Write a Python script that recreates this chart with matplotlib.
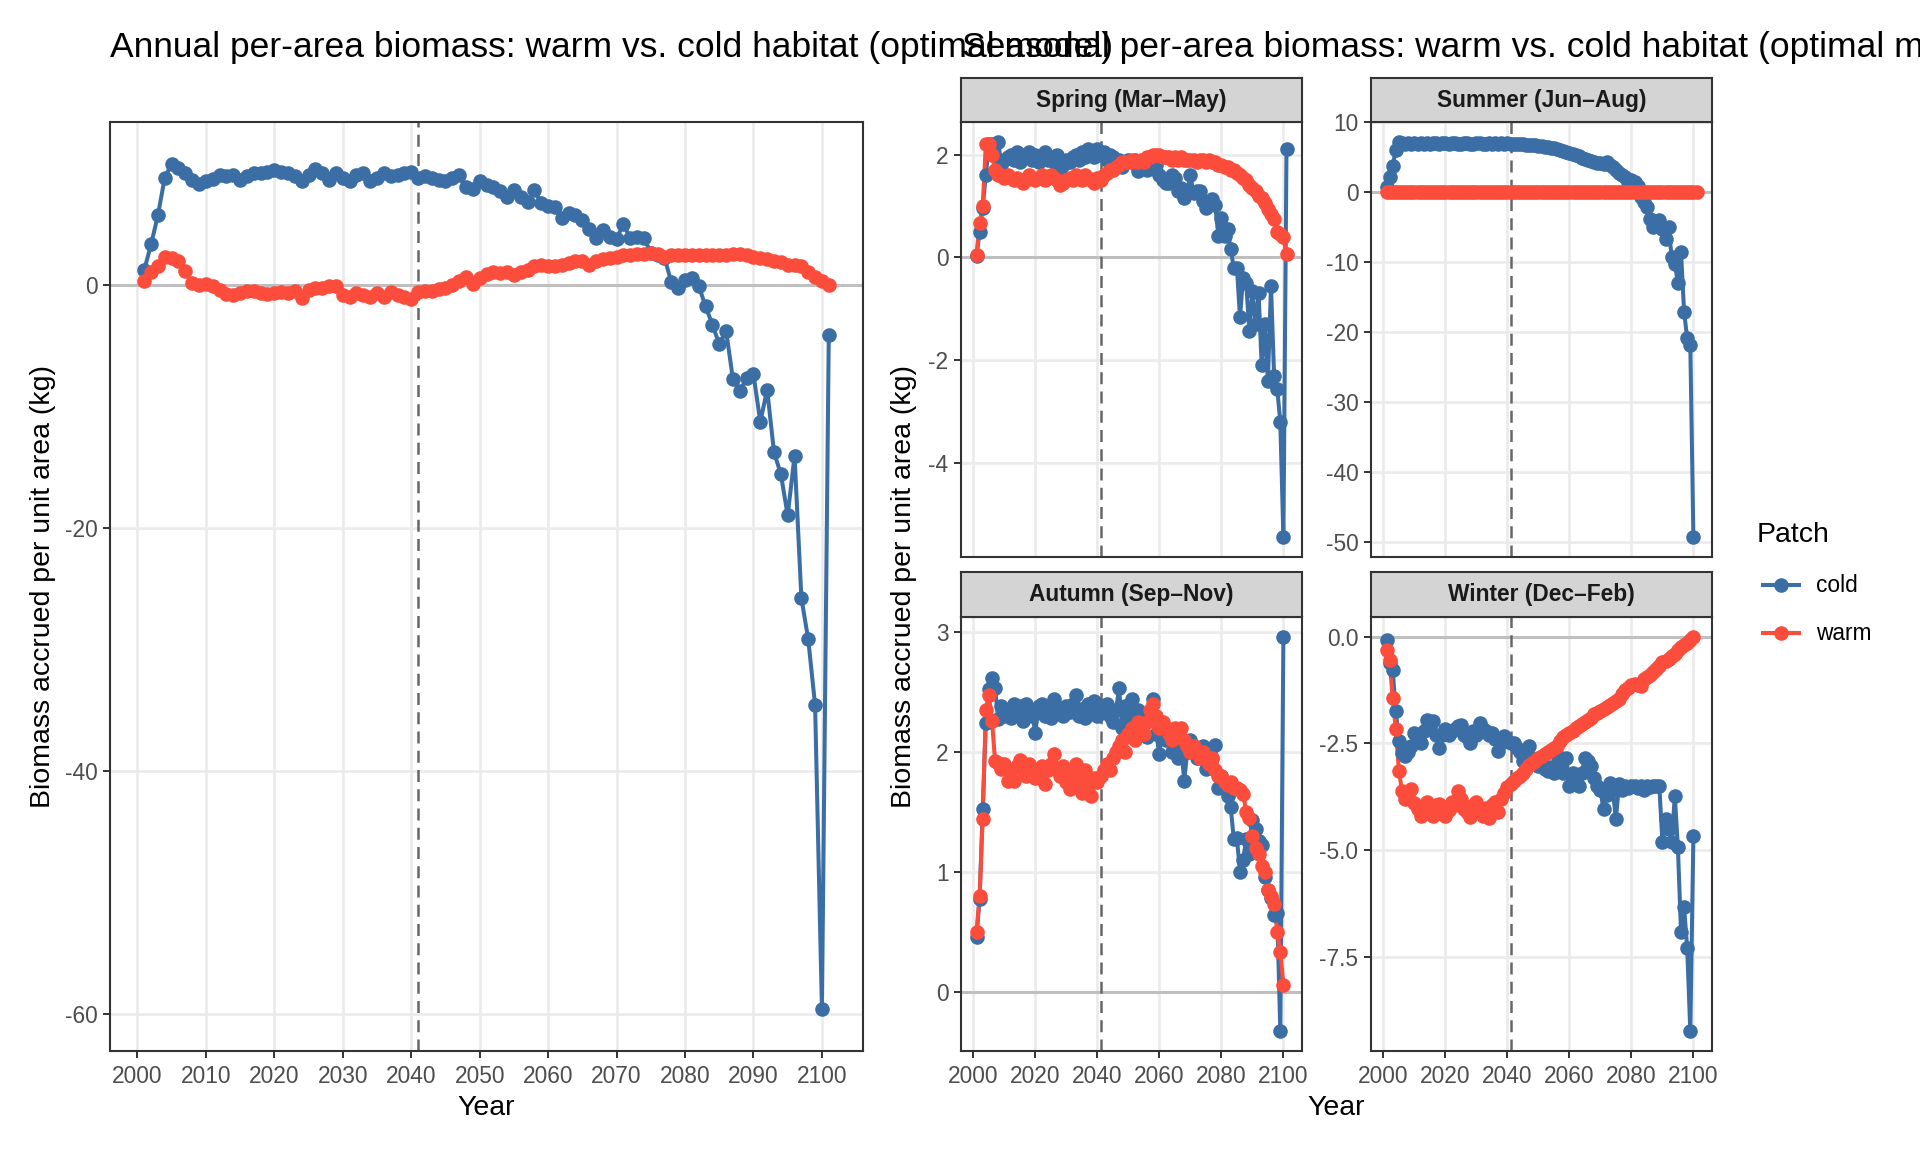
import matplotlib
matplotlib.use("Agg")
import matplotlib.pyplot as plt
from matplotlib.lines import Line2D

plt.rcParams['font.family'] = ['Liberation Sans', 'DejaVu Sans']
plt.rcParams['axes.unicode_minus'] = False

# ---- data ----
years = list(range(2001, 2102))        # 2001..2101
years100 = list(range(2001, 2101))     # 2001..2100

annual_cold = [1.2, 3.3, 5.7, 8.8, 9.9, 9.6, 9.15, 8.6, 8.3, 8.5,
               8.7, 9.0, 8.9, 9.0, 8.6, 8.9, 9.2, 9.15, 9.3, 9.4,
               9.3, 9.15, 8.9, 8.5, 9.0, 9.5, 9.15, 8.6, 9.2, 8.8,
               8.5, 9.05, 9.15, 8.5, 8.75, 9.15, 8.9, 9.0, 9.2, 9.3,
               8.8, 8.9, 8.75, 8.6, 8.5, 8.75, 9.0, 8.05, 7.9, 8.5,
               8.2, 8.0, 7.7, 7.2, 7.8, 7.2, 6.8, 7.8, 6.7, 6.5,
               6.4, 5.45, 5.9, 5.7, 5.3, 4.6, 3.8, 4.5, 3.9, 3.75,
               5.0, 3.8, 3.9, 3.85, 2.6, 2.45, 2.2, 0.2, -0.3, 0.35,
               0.5, -0.1, -1.8, -3.3, -4.9, -3.8, -7.8, -8.8, -7.7, -7.4,
               -11.3, -8.65, -13.8, -15.6, -19.0, -14.1, -25.8, -29.2, -34.6, -59.6,
               -4.15]
annual_warm = [0.3, 1.05, 1.5, 2.3, 2.2, 1.95, 1.1, 0.1, 0.0, 0.05,
               -0.15, -0.45, -0.8, -0.85, -0.7, -0.5, -0.55, -0.7, -0.8, -0.7,
               -0.6, -0.7, -0.5, -1.1, -0.45, -0.3, -0.25, -0.15, -0.1, -0.85,
               -1.0, -0.7, -0.85, -1.0, -0.7, -1.0, -0.6, -0.85, -1.0, -1.2,
               -0.6, -0.55, -0.5, -0.4, -0.3, 0.0, 0.25, 0.65, 0.05, 0.5,
               0.9, 1.0, 0.95, 1.0, 0.8, 1.0, 1.2, 1.5, 1.6, 1.55,
               1.5, 1.6, 1.75, 1.9, 1.95, 1.6, 1.95, 2.1, 2.2, 2.3,
               2.4, 2.45, 2.5, 2.5, 2.6, 2.5, 2.3, 2.4, 2.45, 2.4,
               2.4, 2.45, 2.4, 2.4, 2.4, 2.45, 2.5, 2.5, 2.4, 2.3,
               2.15, 2.1, 1.95, 1.85, 1.6, 1.6, 1.5, 1.05, 0.65, 0.25,
               0.0]

spring_cold = [0.03, 0.5, 0.97, 1.6, 2.2, 2.2, 2.2, 2.25, 1.8, 1.9,
               1.95, 2.0, 1.9, 2.05, 1.85, 2.0, 1.95, 2.05, 1.9, 2.0,
               1.85, 1.95, 2.05, 1.9, 1.95, 1.85, 2.0, 1.7, 1.8, 1.9,
               1.85, 1.95, 2.0, 1.9, 2.05, 1.95, 2.1, 2.0, 1.95, 2.1,
               2.0, 2.05, 1.9, 2.0, 1.95, 1.85, 1.9, 1.75, 1.85, 1.9,
               1.85, 1.9, 1.68, 1.75, 1.8, 1.7, 1.85, 1.74, 1.8, 1.6,
               1.5, 1.45, 1.45, 1.6, 1.55, 1.3, 1.35, 1.16, 1.3, 1.6,
               1.25, 1.3, 1.3, 1.1, 0.97, 1.05, 1.13, 1.03, 0.42, 0.77,
               0.42, 0.55, 0.16, -0.2, -0.2, -1.16, -0.4, -0.5, -1.42, -0.65,
               -1.3, -0.7, -2.1, -1.3, -2.4, -0.55, -2.3, -2.55, -3.2, -5.44,
               2.1]
spring_warm = [0.05, 0.68, 1.0, 2.2, 2.2, 2.0, 1.7, 1.6, 1.6, 1.55,
               1.6, 1.55, 1.5, 1.55, 1.5, 1.45, 1.5, 1.6, 1.55, 1.5,
               1.55, 1.6, 1.5, 1.55, 1.6, 1.55, 1.5, 1.4, 1.45, 1.5,
               1.55, 1.5, 1.6, 1.55, 1.5, 1.6, 1.55, 1.5, 1.45, 1.55,
               1.5, 1.6, 1.65, 1.7, 1.7, 1.75, 1.8, 1.85, 1.85, 1.85,
               1.9, 1.85, 1.85, 1.9, 1.85, 1.95, 1.95, 2.0, 2.0, 2.0,
               1.95, 1.95, 1.95, 1.9, 1.95, 1.9, 1.95, 1.9, 1.9, 1.9,
               1.9, 1.85, 1.9, 1.9, 1.85, 1.9, 1.85, 1.85, 1.8, 1.8,
               1.75, 1.75, 1.7, 1.7, 1.65, 1.6, 1.55, 1.5, 1.4, 1.35,
               1.3, 1.2, 1.15, 1.05, 0.95, 0.85, 0.75, 0.5, 0.45, 0.39,
               0.06]

summer_cold = [0.7, 2.2, 3.8, 6.0, 7.2, 7.0, 6.9, 7.0, 6.9, 7.0,
               6.95, 7.0, 6.9, 7.0, 6.95, 7.05, 7.0, 6.9, 7.0, 7.0,
               6.95, 7.0, 7.05, 6.9, 6.95, 7.0, 7.0, 6.9, 6.95, 7.0,
               7.0, 6.95, 6.9, 7.0, 6.95, 7.0, 6.95, 7.0, 6.9, 7.0,
               6.95, 6.9, 6.95, 6.85, 6.9, 6.8, 6.8, 6.7, 6.75, 6.6,
               6.6, 6.5, 6.45, 6.3, 6.3, 6.1, 6.0, 5.9, 5.75, 5.6,
               5.4, 5.25, 5.1, 4.95, 4.8, 4.6, 4.5, 4.35, 4.2, 4.1,
               4.0, 4.3, 3.95, 3.6, 3.1, 2.8, 2.5, 2.2, 1.4, 1.7,
               1.5, 0.9, -0.7, -1.4, -2.1, -3.8, -5.0, -4.75, -4.0, -5.3,
               -6.65, -5.0, -9.3, -10.2, -13.0, -8.5, -17.1, -20.9, -21.85, -49.3]
summer_warm = [0.0] * 101   # warm patch accrues nothing in summer

autumn_cold = [0.46, 0.77, 1.52, 2.24, 2.52, 2.62, 2.53, 2.27, 2.38, 2.3,
               2.35, 2.28, 2.4, 2.32, 2.38, 2.26, 2.4, 2.35, 2.3, 2.16,
               2.38, 2.4, 2.3, 2.35, 2.28, 2.44, 2.32, 2.36, 2.3, 2.38,
               2.33, 2.4, 2.47, 2.3, 2.36, 2.28, 2.4, 2.32, 2.42, 2.3,
               2.38, 2.35, 2.4, 2.3, 2.25, 2.35, 2.53, 2.2, 2.38, 2.28,
               2.44, 2.2, 2.35, 2.3, 2.25, 2.12, 2.3, 2.44, 2.15, 1.98,
               2.2, 2.1, 2.15, 2.0, 2.05, 1.95, 2.05, 1.76, 2.0, 2.1,
               2.05, 1.95, 2.0, 2.05, 1.86, 2.0, 1.95, 2.06, 1.7, 1.8,
               1.75, 1.63, 1.54, 1.27, 1.28, 1.0, 1.1, 1.27, 1.15, 1.43,
               1.36, 1.26, 1.22, 0.96, 0.85, 0.78, 0.64, 0.66, -0.33, 2.96]
autumn_warm = [0.5, 0.8, 1.44, 2.35, 2.47, 2.26, 1.92, 1.91, 1.86, 1.9,
               1.76, 1.85, 1.76, 1.88, 1.93, 1.85, 1.8, 1.9, 1.85, 1.78,
               1.82, 1.88, 1.73, 1.85, 1.9, 1.98, 1.85, 1.8, 1.88, 1.75,
               1.69, 1.82, 1.9, 1.75, 1.66, 1.85, 1.7, 1.63, 1.78, 1.75,
               1.8, 1.85, 1.9, 1.85, 1.95, 2.0, 2.05, 2.1, 2.0, 2.15,
               2.2, 2.1, 2.25, 2.2, 2.15, 2.25, 2.35, 2.4, 2.3, 2.2,
               2.25, 2.2, 2.15, 2.1, 2.2, 2.15, 2.2, 2.1, 2.05, 2.0,
               2.05, 2.0, 1.95, 2.0, 1.95, 1.9, 1.95, 1.85, 1.8, 1.8,
               1.75, 1.72, 1.75, 1.7, 1.7, 1.68, 1.65, 1.5, 1.45, 1.3,
               1.2, 1.15, 1.05, 1.0, 0.85, 0.8, 0.73, 0.5, 0.33, 0.06]

winter_cold = [-0.08, -0.62, -0.78, -1.75, -2.45, -2.72, -2.8, -2.7, -2.55, -2.25,
               -2.4, -2.48, -2.2, -1.94, -2.1, -1.98, -2.3, -2.6, -2.3, -2.17,
               -2.3, -2.2, -2.15, -2.1, -2.06, -2.3, -2.35, -2.48, -2.2, -2.3,
               -2.02, -2.15, -2.2, -2.3, -2.25, -2.4, -2.68, -2.5, -2.33, -2.45,
               -2.5, -2.48, -2.6, -2.7, -2.91, -2.75, -2.56, -2.85, -2.95, -3.03,
               -3.0, -3.1, -3.15, -3.05, -3.18, -2.76, -3.0, -3.2, -2.83, -3.49,
               -3.18, -3.3, -3.49, -3.2, -2.83, -2.9, -3.03, -3.3, -3.49, -3.6,
               -4.04, -3.7, -3.42, -3.6, -4.27, -3.46, -3.6, -3.49, -3.55, -3.49,
               -3.5, -3.55, -3.49, -3.6, -3.5, -3.52, -3.49, -3.5, -3.49, -4.81,
               -4.27, -4.5, -4.81, -3.73, -4.93, -6.91, -6.33, -7.3, -9.24, -4.66]
winter_warm = [-0.31, -0.54, -1.44, -2.17, -3.14, -3.61, -3.8, -3.7, -3.57, -3.9,
               -4.04, -4.19, -3.95, -3.88, -4.1, -4.19, -3.95, -3.92, -3.96, -4.19,
               -4.05, -3.88, -3.95, -3.61, -3.8, -4.04, -4.1, -4.23, -3.95, -3.88,
               -4.1, -4.19, -4.0, -4.25, -3.95, -3.88, -4.1, -3.8, -3.65, -3.53,
               -3.45, -3.38, -3.3, -3.25, -3.2, -3.1, -3.0, -2.95, -2.9, -2.85,
               -2.8, -2.75, -2.7, -2.65, -2.6, -2.55, -2.45, -2.35, -2.3, -2.25,
               -2.2, -2.14, -2.1, -2.05, -2.0, -1.95, -1.9, -1.8, -1.79, -1.75,
               -1.7, -1.65, -1.6, -1.55, -1.51, -1.45, -1.35, -1.25, -1.2, -1.13,
               -1.1, -1.12, -1.16, -1.0, -0.95, -0.9, -0.82, -0.75, -0.68, -0.6,
               -0.58, -0.52, -0.45, -0.4, -0.31, -0.25, -0.2, -0.14, -0.07, 0.0]

seasons = ["Spring (Mar–May)", "Summer (Jun–Aug)", "Autumn (Sep–Nov)", "Winter (Dec–Feb)"]
season_yticks = [[-4, -2, 0, 2],
                 [-50, -40, -30, -20, -10, 0, 10],
                 [0, 1, 2, 3],
                 [-7.5, -5.0, -2.5, 0.0]]
season_ylabels = [["-4", "-2", "0", "2"],
                  ["-50", "-40", "-30", "-20", "-10", "0", "10"],
                  ["0", "1", "2", "3"],
                  ["-7.5", "-5.0", "-2.5", "0.0"]]
annual_yticks = [-60, -40, -20, 0]
annual_xticks = list(range(2000, 2101, 10))
season_xticks = list(range(2000, 2101, 20))
cutoff_year = 2041

COLD = '#3a6ea5'
WARM = '#fc4c3b'
W, H = 1920, 1152
BASE = 20.5
LW = 2.9
MS = 10.5

fig = plt.figure(figsize=(W / 100, H / 100), dpi=100)


def box(x0, y0, x1, y1):
    # pixel box (top-left origin) -> figure fraction rect
    return [x0 / W, 1 - y1 / H, (x1 - x0) / W, (y1 - y0) / H]


def expand(vals):
    lo, hi = min(vals), max(vals)
    pad = (hi - lo) * 0.05
    return lo - pad, hi + pad


def style(ax, xticks, yticks, ylabels, show_x=True):
    ax.set_facecolor('white')
    ax.set_xticks(xticks)
    ax.set_xticklabels([str(t) for t in xticks])
    ax.set_yticks(yticks)
    ax.set_yticklabels(ylabels)
    ax.grid(True, color='#ebebeb', lw=1.9)
    ax.set_axisbelow(True)
    for s in ax.spines.values():
        s.set_color('#333333')
        s.set_linewidth(1.5)
    ax.tick_params(axis='both', colors='#333333', length=5, width=1.4,
                   labelsize=BASE * 0.8, labelcolor='#4d4d4d')
    ax.tick_params(axis='x', pad=5)
    ax.tick_params(axis='y', pad=4)
    if not show_x:
        ax.tick_params(axis='x', bottom=False, labelbottom=False)


def draw(ax, xc, cold, xw, warm):
    ax.axhline(0, color='#bfbfbf', lw=2.2, zorder=1)
    ax.axvline(cutoff_year, color='#666666', lw=1.8, ls=(0, (4.8, 2.9)), zorder=1.5)
    ax.plot(xc, cold, color=COLD, lw=LW, zorder=2)
    ax.plot(xw, warm, color=WARM, lw=LW, zorder=2)
    ax.plot(xc, cold, 'o', color=COLD, ms=MS, mew=0, zorder=3)
    ax.plot(xw, warm, 'o', color=WARM, ms=MS, mew=0, zorder=3)
    ax.set_xlim(expand(list(xc) + list(xw)))
    ax.set_ylim(expand(list(cold) + list(warm)))


# ---- annual panel ----
ax0 = fig.add_axes(box(110, 122, 863, 1051))
draw(ax0, years, annual_cold, years, annual_warm)
style(ax0, annual_xticks, annual_yticks, [str(t) for t in annual_yticks])

# ---- seasonal facets ----
cells = [(961, 1302, 122, 557, 78), (1371, 1712, 122, 557, 78),
         (961, 1302, 617, 1051, 572), (1371, 1712, 617, 1051, 572)]
series = [(years, spring_cold, years, spring_warm),
          (years100, summer_cold, years, summer_warm),
          (years100, autumn_cold, years100, autumn_warm),
          (years100, winter_cold, years100, winter_warm)]
for i, (x0, x1, y0, y1, s0) in enumerate(cells):
    ax = fig.add_axes(box(x0, y0, x1, y1))
    draw(ax, *series[i])
    ax.set_xlim(1996, 2106)
    style(ax, season_xticks, season_yticks[i], season_ylabels[i], show_x=(i >= 2))
    st = fig.add_axes(box(x0, s0, x1, y0))
    st.set_facecolor('#d4d4d4')
    st.set_xticks([])
    st.set_yticks([])
    for s in st.spines.values():
        s.set_color('#333333')
        s.set_linewidth(1.5)
    st.text(0.5, 0.5, seasons[i], ha='center', va='center', fontsize=BASE * 0.8,
            fontweight='bold', color='#1a1a1a', transform=st.transAxes)

# ---- titles and axis labels ----
TITLE_FS = 25.5
fig.text(110 / W, 1 - 47 / H, "Annual per-area biomass: warm vs. cold habitat (optimal model)",
         fontsize=TITLE_FS, va='center', ha='left')
fig.text(962 / W, 1 - 47 / H, "Seasonal per-area biomass: warm vs. cold habitat (optimal model)",
         fontsize=TITLE_FS, va='center', ha='left')
ylab = "Biomass accrued per unit area (kg)"
fig.text(43 / W, 1 - 587 / H, ylab, rotation=90, fontsize=BASE, va='center', ha='center')
fig.text(904 / W, 1 - 587 / H, ylab, rotation=90, fontsize=BASE, va='center', ha='center')
fig.text(486 / W, 1 - 1108 / H, "Year", fontsize=BASE, va='center', ha='center')
fig.text(1336 / W, 1 - 1108 / H, "Year", fontsize=BASE, va='center', ha='center')

# ---- legend ----
fig.text(1757 / W, 1 - 535 / H, "Patch", fontsize=BASE, va='center', ha='left')
for lab, col, yy in [("cold", COLD, 585), ("warm", WARM, 633)]:
    fy = 1 - yy / H
    fig.add_artist(Line2D([1763 / W, 1799 / W], [fy, fy], color=col, lw=LW,
                          transform=fig.transFigure))
    fig.add_artist(Line2D([1781 / W], [fy], marker='o', ms=MS, mew=0, color=col,
                          transform=fig.transFigure))
    fig.text(1816 / W, fy, lab, fontsize=BASE * 0.8, va='center', ha='left')

fig.savefig("out.png", dpi=100)
